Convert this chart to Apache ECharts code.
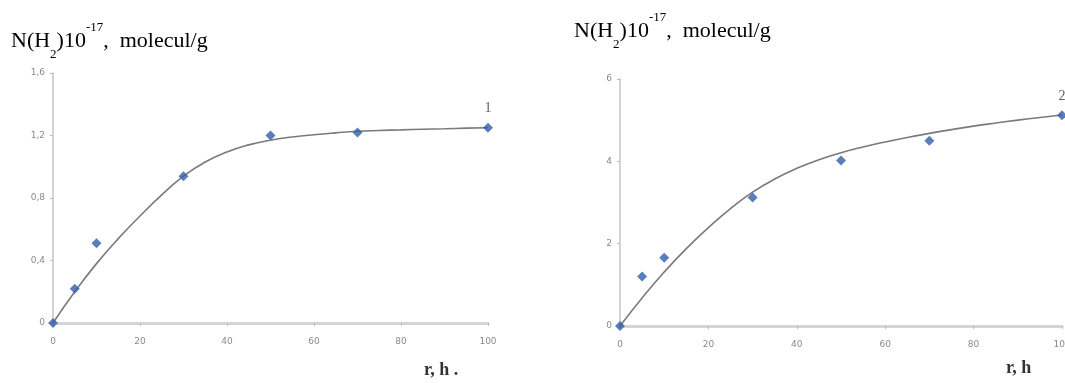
<!DOCTYPE html>
<html>
<head>
<meta charset="utf-8">
<script src="https://cdn.jsdelivr.net/npm/echarts@6/dist/echarts.min.js"></script>
<style>
  html, body { margin: 0; padding: 0; background: #fff; }
  #chart { width: 1065px; height: 383px; }
</style>
</head>
<body>
<div id="chart"></div>
<script>
// time, h
const timeLeft = [0, 5, 10, 30, 50, 70, 100];
const measLeft = [0, 0.22, 0.51, 0.94, 1.2, 1.22, 1.25];
const fitTimeLeft = [0, 5, 10, 15, 20, 25, 30, 35, 40, 45, 50, 55, 60, 65, 70, 75, 80, 85, 90, 95, 100];
const fitLeft = [0, 0.2, 0.38, 0.54, 0.685, 0.82, 0.94, 1.03, 1.095, 1.14, 1.17, 1.19, 1.205, 1.217, 1.227, 1.232, 1.236, 1.24, 1.243, 1.247, 1.25];

const timeRight = [0, 5, 10, 30, 50, 70, 100];
const measRight = [0, 1.2, 1.66, 3.12, 4.02, 4.5, 5.12];
const fitTimeRight = [0, 5, 10, 15, 20, 25, 30, 35, 40, 45, 50, 55, 60, 65, 70, 75, 80, 85, 90, 95, 100];
const fitRight = [0, 0.68, 1.31, 1.88, 2.39, 2.85, 3.25, 3.57, 3.83, 4.04, 4.21, 4.35, 4.47, 4.58, 4.68, 4.77, 4.855, 4.93, 5.0, 5.065, 5.125];

const yTicksLeft = { min: 0, max: 1.6, interval: 0.4 };
const yTicksRight = { min: 0, max: 6, interval: 2 };
const xTicks = { min: 0, max: 100, interval: 20 };

const curveLabels = ["1", "2"];

const pairs = (xs, ys) => xs.map((x, i) => [x, ys[i]]);

const chart = echarts.init(document.getElementById("chart"));

const axisGray = "#d4d4d4";
const tickText = { color: "#8a8a8a", fontSize: 9, fontFamily: "DejaVu Sans" };

function xAxis(idx) {
  return {
    gridIndex: idx, type: "value", ...xTicks,
    axisLine: { show: true, onZero: false, lineStyle: { color: axisGray, width: 3 } },
    axisTick: { show: true, length: 3, lineStyle: { color: "#bbb" } },
    axisLabel: { ...tickText, margin: 14 },
    splitLine: { show: false }
  };
}
function yAxis(idx, t) {
  return {
    gridIndex: idx, type: "value", ...t,
    axisLine: { show: true, lineStyle: { color: axisGray, width: 2 } },
    axisTick: { show: true, length: 3, lineStyle: { color: "#bbb" } },
    axisLabel: { ...tickText, margin: 8, formatter: v => String(v).replace(".", ",") },
    splitLine: { show: false }
  };
}
function curve(idx, xs, ys) {
  return {
    type: "line", xAxisIndex: idx, yAxisIndex: idx, data: pairs(xs, ys),
    smooth: 0.5, symbol: "none", z: 2,
    lineStyle: { color: "#7a7a7a", width: 1.6 }
  };
}
function points(idx, xs, ys, tag) {
  const data = pairs(xs, ys).map((p, i) => i === xs.length - 1
    ? { value: p, label: { show: true, formatter: tag, position: "top", distance: 7,
        fontFamily: "Liberation Serif", fontSize: 14, color: "#333" } }
    : p);
  return {
    type: "scatter", xAxisIndex: idx, yAxisIndex: idx, data,
    symbol: "diamond", symbolSize: 10, clip: false, z: 3,
    itemStyle: { color: "#2f5ea8" }
  };
}

const titleRich = {
  m: { fontFamily: "Liberation Serif", fontSize: 22, color: "#2a2a2a", verticalAlign: "middle", lineHeight: 40 },
  sub: { fontFamily: "Liberation Serif", fontSize: 13, color: "#2a2a2a", verticalAlign: "bottom", lineHeight: 40 },
  sup: { fontFamily: "Liberation Serif", fontSize: 13, color: "#2a2a2a", verticalAlign: "top", lineHeight: 40 }
};
const titleText = "{m|N(H}{sub|2}{m|)10}{sup|-17}{m|,  molecul/g}";

chart.setOption({
  backgroundColor: "#fff",
  animation: false,
  grid: [
    { left: 53, right: 577, top: 73, bottom: 60, outerBoundsMode: "none" },
    { left: 620, right: 3, top: 79, bottom: 57, outerBoundsMode: "none" }
  ],
  xAxis: [xAxis(0), xAxis(1)],
  yAxis: [yAxis(0, yTicksLeft), yAxis(1, yTicksRight)],
  series: [
    curve(0, fitTimeLeft, fitLeft),
    points(0, timeLeft, measLeft, curveLabels[0]),
    curve(1, fitTimeRight, fitRight),
    points(1, timeRight, measRight, curveLabels[1])
  ],
  graphic: [
    { type: "text", left: 11, top: 21, style: { text: titleText, rich: titleRich } },
    { type: "text", left: 574, top: 11, style: { text: titleText, rich: titleRich } },
    { type: "text", left: 424, top: 361, style: { text: "r, h .", fontFamily: "Liberation Serif",
        fontSize: 18, fontWeight: "bold", fill: "#333" } },
    { type: "text", left: 1006, top: 359, style: { text: "r, h", fontFamily: "Liberation Serif",
        fontSize: 18, fontWeight: "bold", fill: "#333" } }
  ]
});
</script>
</body>
</html>
